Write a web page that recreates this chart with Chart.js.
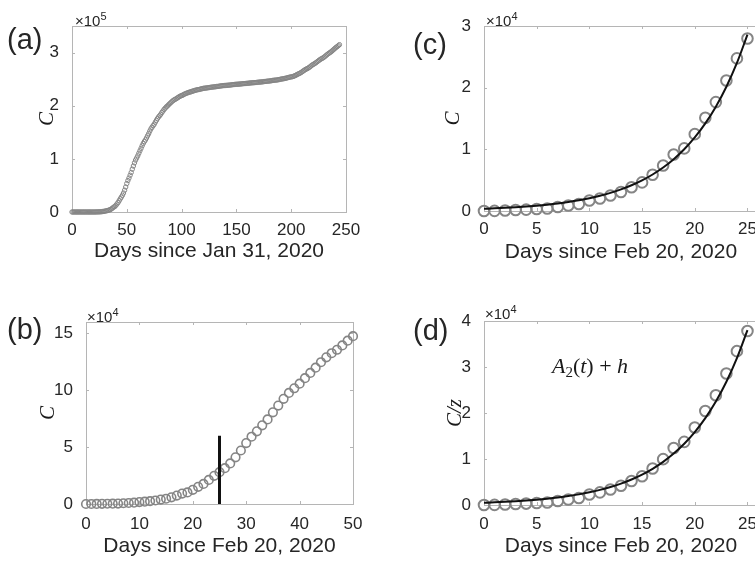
<!DOCTYPE html>
<html>
<head>
<meta charset="utf-8">
<script src="https://cdn.jsdelivr.net/npm/chart.js@4.4.1/dist/chart.umd.min.js"></script>
<style>
  html, body { margin: 0; padding: 0; background: #fff; width: 755px; height: 561px; overflow: hidden; position: relative; }
  canvas { position: absolute; }
  .tag { position: absolute; font: 29px 'Liberation Sans', Arial, sans-serif; line-height: 1; color: #262626; }
  .expo { position: absolute; font: 15px 'Liberation Sans', Arial, sans-serif; line-height: 1; color: #262626; white-space: nowrap; }
  .expo sup { font-size: 11px; vertical-align: 6px; }
  .eq { position: absolute; font: italic 22px 'Liberation Serif', 'DejaVu Serif', serif; line-height: 1; color: #1a1a1a; transform: translate(-50%, -50%); white-space: nowrap; }
  .eq .up { font-style: normal; }
  .eq sub { font-style: normal; font-size: 15px; vertical-align: -4px; }
</style>
</head>
<body>
<canvas id="chartA" width="378" height="280" style="left:0;top:0"></canvas>
<canvas id="chartB" width="378" height="281" style="left:0;top:280px"></canvas>
<canvas id="chartC" width="400" height="280" style="left:380px;top:0"></canvas>
<canvas id="chartD" width="400" height="281" style="left:380px;top:280px"></canvas>

<div class="tag" style="left:7px;top:25px">(a)</div>
<div class="tag" style="left:7px;top:315px">(b)</div>
<div class="tag" style="left:413px;top:30px">(c)</div>
<div class="tag" style="left:413px;top:316px">(d)</div>

<div class="expo" style="left:75px;top:11px">×10<sup>5</sup></div>
<div class="expo" style="left:87px;top:307px">×10<sup>4</sup></div>
<div class="expo" style="left:486px;top:11px">×10<sup>4</sup></div>
<div class="expo" style="left:485px;top:304px">×10<sup>4</sup></div>

<div class="eq" style="left:590px;top:367px">A<sub>2</sub><span class="up">(</span>t<span class="up">) + </span>h</div>

<script>
// Cumulative cases, one value per day since Jan 31, 2020 (panel a)
const casesA = [
  2, 2, 2, 2, 2, 2, 3, 3, 3, 3, 3, 3, 3, 3, 3, 3, 3, 3, 3, 3,
  3, 20, 79, 157, 229, 322, 400, 650, 888, 1128,
  1694, 2036, 2502, 3089, 3858, 4636, 5883, 7375, 9172, 10149,
  12462, 15113, 17660, 21157, 24747, 27980, 31506, 35713, 41035, 47021,
  53578, 59138, 63927, 69176, 74386, 80589, 86498, 92472, 97689, 101739,
  105792, 110574, 115242, 119827, 124632, 128948, 132547, 135586, 139422, 143626,
  147577, 152271, 156363, 159516, 162488, 165155, 168941, 172434, 175925, 178972,
  181228, 183957, 187327, 189973, 192994, 195351, 197675, 199414, 201505, 203591,
  205463, 207428, 209328, 210717, 211938, 213013, 214457, 215858, 217185, 218268,
  219070, 219814, 221216, 222104, 223096, 223885, 224760, 225435, 225886, 226699,
  227364, 228006, 228658, 229327, 229858, 230158, 230555, 231139, 231732, 232248,
  232664, 232997, 233197, 233515, 233836, 234013, 234531, 234801, 234998, 235278,
  235561, 235763, 236142, 236305, 236651, 236989, 237290, 237500, 237828, 238011,
  238159, 238275, 238499, 238720, 238833, 239151, 239410, 239706, 239961, 240136,
  240310, 240436, 240578, 240760, 240961, 241184, 241419, 241611, 241819, 241956,
  242149, 242363, 242639, 242827, 243061, 243230, 243344, 243506, 243736, 243967,
  244216, 244434, 244624, 244752, 245032, 245338, 245590, 245864, 246118, 246286,
  246488, 246776, 247158, 247537, 247832, 248070, 248229, 248419, 248803, 249204,
  249756, 250103, 250566, 250825, 251237, 251713, 252235, 252809, 253438, 253915,
  254235, 254636, 255278, 256118, 257065, 258136, 259345, 260298, 261174, 262540,
  263949, 265409, 266853, 268218, 269214, 270189, 271515, 272912, 274644, 276338,
  277634, 278784, 280153, 281583, 283180, 284796, 286297, 287753, 288761, 289990,
  291442, 293025, 294932, 296569, 298156, 299506, 300897, 302537, 304323, 306235,
  308104, 309870, 311364, 313011, 314861
];

// Panels b and c start on Feb 20, 2020 (day 20 of panel a)
const casesB = casesA.slice(20, 71);
const casesC = casesA.slice(20, 46);

// Fitted curve for panel c
const fitC = [360, 429, 511, 608, 725, 864, 1029, 1226, 1460, 1739, 2072, 2468, 2940,
  3502, 4172, 4969, 5920, 7052, 8401, 10008, 11921, 14201, 16917, 20153, 24007, 28598];

// C/z values and fitted A2(t)+h for panel d
const scaledD = [4, 27, 107, 212, 309, 435, 541, 878, 1200, 1524, 2289, 2751, 3381,
  4174, 5214, 6265, 7950, 9966, 12395, 13715, 16841, 20423, 23865, 28591, 33442, 37811];
const fitD = [479, 571, 680, 809, 964, 1149, 1369, 1631, 1942, 2313, 2756, 3282, 3910,
  4658, 5549, 6609, 7874, 9379, 11173, 13311, 15855, 18887, 22500, 26803, 31929, 38035];

// vertical marker in panel b
const markerDayB = [25, 25];
const markerValB = [0, 60000];

// tick values
const xTicksA = [0, 50, 100, 150, 200, 250];
const yTicksA = [0, 100000, 200000, 300000];
const xTicksB = [0, 10, 20, 30, 40, 50];
const yTicksB = [0, 50000, 100000, 150000];
const xTicksCD = [0, 5, 10, 15, 20, 25];
const yTicksC = [0, 10000, 20000, 30000];
const yTicksD = [0, 10000, 20000, 30000, 40000];

const AXIS_COLOR = '#b5b5b5';
const TEXT_COLOR = '#262626';
const MARK_COLOR = '#858585';

const toPoints = (ys, xs) => ys.map((v, i) => ({ x: xs ? xs[i] : i, y: v }));
const asTicks = vals => vals.map(v => ({ value: v }));

// box round the plot area with small inward ticks on all four sides
const boxPlugin = {
  id: 'box',
  beforeDatasetsDraw(chart) {
    const { ctx, chartArea: a, scales: { x, y } } = chart;
    ctx.save();
    ctx.strokeStyle = AXIS_COLOR;
    ctx.lineWidth = 1;
    ctx.strokeRect(Math.round(a.left) + 0.5, Math.round(a.top) + 0.5,
      Math.round(a.right - a.left), Math.round(a.bottom - a.top));
    ctx.beginPath();
    x.ticks.forEach(t => {
      const px = Math.round(x.getPixelForValue(t.value)) + 0.5;
      ctx.moveTo(px, a.bottom); ctx.lineTo(px, a.bottom - 3);
      ctx.moveTo(px, a.top); ctx.lineTo(px, a.top + 3);
    });
    y.ticks.forEach(t => {
      const py = Math.round(y.getPixelForValue(t.value)) + 0.5;
      ctx.moveTo(a.left, py); ctx.lineTo(a.left + 3, py);
      ctx.moveTo(a.right, py); ctx.lineTo(a.right - 3, py);
    });
    ctx.stroke();
    ctx.restore();
  }
};

function makePanel(id, datasets, ax) {
  new Chart(document.getElementById(id), {
    type: 'scatter',
    data: { datasets },
    options: {
      responsive: false,
      animation: false,
      events: [],
      layout: { padding: ax.pad },
      plugins: { legend: { display: false }, tooltip: { enabled: false } },
      scales: {
        x: {
          type: 'linear', min: ax.xMin, max: ax.xMax,
          grid: { display: false }, border: { display: false },
          afterBuildTicks: s => { s.ticks = asTicks(ax.xTicks); },
          ticks: { padding: ax.xTickPad, color: TEXT_COLOR, maxRotation: 0, autoSkip: false,
                   font: { family: "'Liberation Sans', Arial, sans-serif", size: 17 } },
          title: { display: true, text: ax.xTitle, color: TEXT_COLOR, padding: 0,
                   font: { family: "'Liberation Sans', Arial, sans-serif", size: 21 } },
          afterFit: s => { s.height = ax.xHeight; }
        },
        y: {
          type: 'linear', min: 0, max: ax.yMax,
          grid: { display: false }, border: { display: false },
          afterBuildTicks: s => { s.ticks = asTicks(ax.yTicks); },
          ticks: { padding: 5, color: TEXT_COLOR, autoSkip: false,
                   font: { family: "'Liberation Sans', Arial, sans-serif", size: 17 },
                   callback: v => v / ax.yUnit },
          title: { display: true, text: ax.yTitle, color: '#1a1a1a', padding: { top: ax.yTitlePad, bottom: 0 },
                   font: { family: "'Liberation Serif', 'DejaVu Serif', serif", size: 21, style: 'italic' } },
          afterFit: s => { s.width = ax.yWidth; }
        }
      }
    },
    plugins: [boxPlugin]
  });
}

const circles = (pts, r, w) => ({
  data: pts, showLine: false, pointRadius: r, pointBorderWidth: w,
  pointBorderColor: MARK_COLOR, pointBackgroundColor: 'rgba(0,0,0,0)', clip: false, order: 2
});
const curve = (pts, w) => ({
  data: pts, showLine: true, pointRadius: 0, borderColor: '#111', borderWidth: w,
  cubicInterpolationMode: 'monotone', clip: false, order: 1
});

makePanel('chartA', [circles(toPoints(casesA), 2.2, 1)], {
  pad: { left: 0, top: 26, right: 32, bottom: 16 },
  xMin: 0, xMax: 250, xTicks: xTicksA, xTickPad: 0, xHeight: 52, xTitle: 'Days since Jan 31, 2020',
  yMax: 350000, yTicks: yTicksA, yUnit: 100000, yWidth: 72, yTitle: 'C', yTitlePad: 35
});

makePanel('chartB', [
  curve(toPoints(markerValB, markerDayB), 3),
  circles(toPoints(casesB), 4.3, 1.6)
], {
  pad: { left: 0, top: 42, right: 25, bottom: 2 },
  xMin: 0, xMax: 50, xTicks: xTicksB, xTickPad: 2, xHeight: 55, xTitle: 'Days since Feb 20, 2020',
  yMax: 160000, yTicks: yTicksB, yUnit: 10000, yWidth: 86, yTitle: 'C', yTitlePad: 36
});

makePanel('chartC', [
  curve(toPoints(fitC), 2),
  circles(toPoints(casesC), 5.3, 2)
], {
  pad: { left: 0, top: 26, right: 22, bottom: 15 },
  xMin: 0, xMax: 26, xTicks: xTicksCD, xTickPad: 0, xHeight: 54, xTitle: 'Days since Feb 20, 2020',
  yMax: 30000, yTicks: yTicksC, yUnit: 10000, yWidth: 104, yTitle: 'C', yTitlePad: 61
});

makePanel('chartD', [
  curve(toPoints(fitD), 2),
  circles(toPoints(scaledD), 5.3, 2)
], {
  pad: { left: 0, top: 41, right: 22, bottom: 2 },
  xMin: 0, xMax: 26, xTicks: xTicksCD, xTickPad: 1, xHeight: 54, xTitle: 'Days since Feb 20, 2020',
  yMax: 40000, yTicks: yTicksD, yUnit: 10000, yWidth: 104, yTitle: 'C/z', yTitlePad: 63
});
</script>
</body>
</html>
